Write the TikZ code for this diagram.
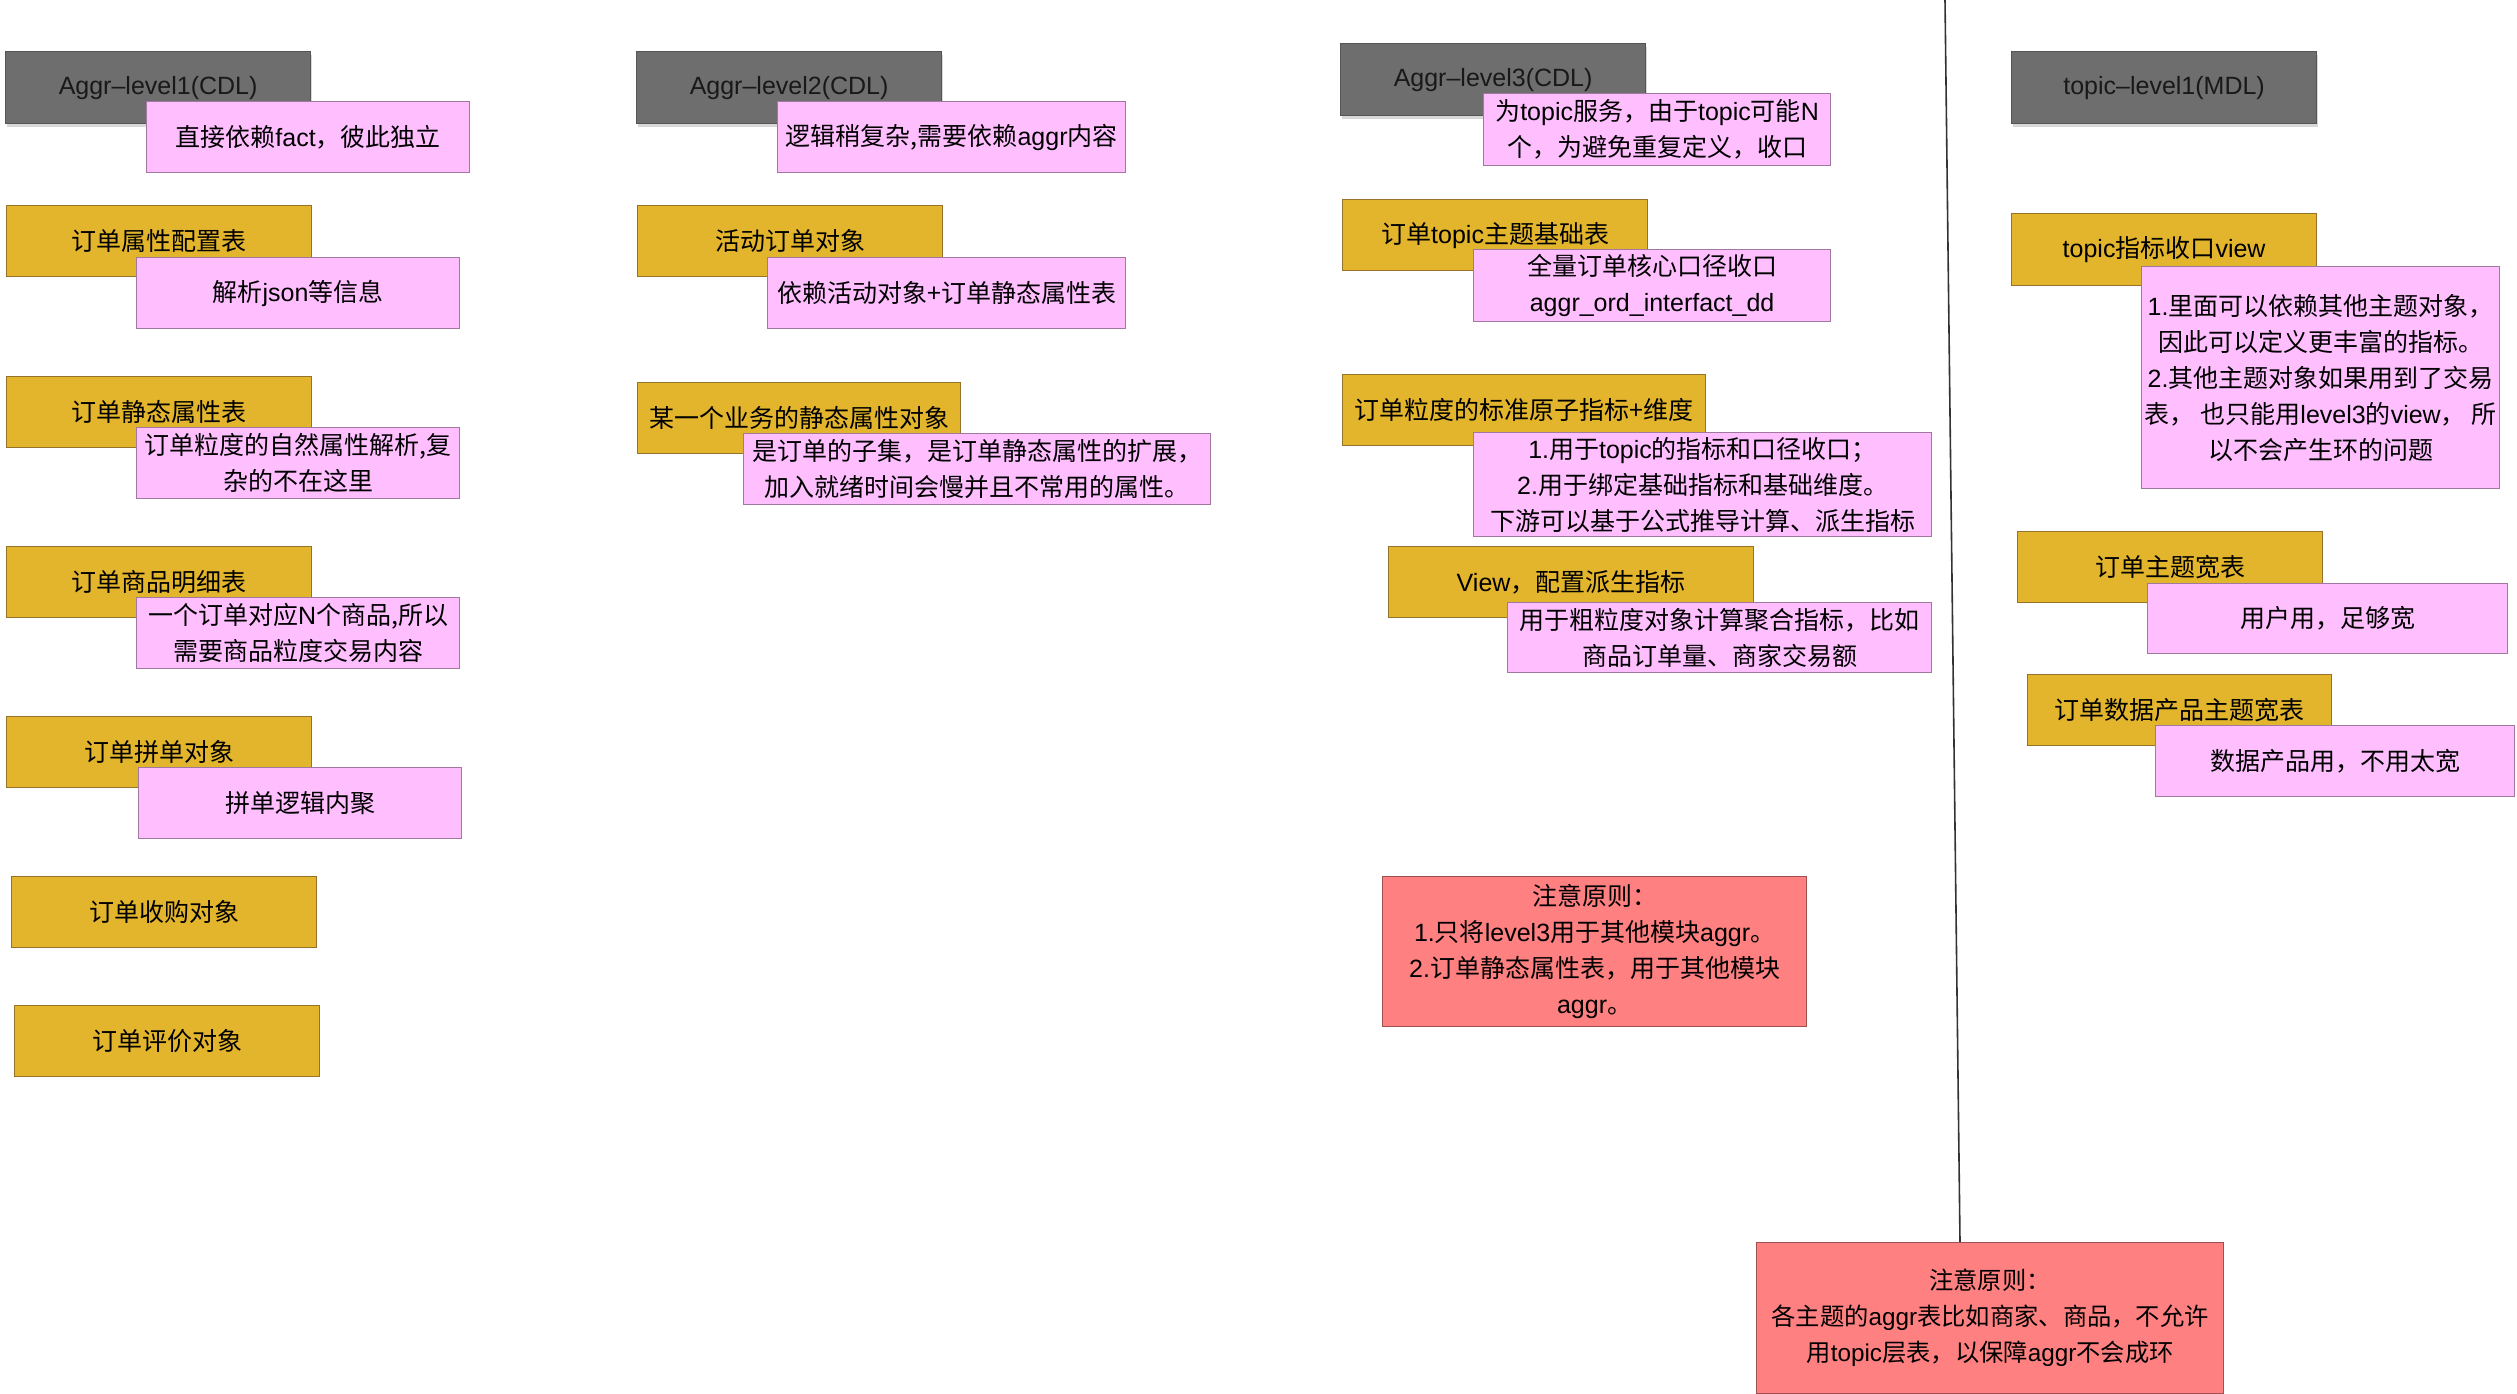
\documentclass[tikz,border=0pt]{standalone}
\usepackage{fontspec}
\setmainfont{Noto Sans CJK SC}
\newfontfamily\latfont{Liberation Sans}
\newcommand\lat[1]{{\latfont #1}}
\usetikzlibrary{shadows}
\definecolor{graybg}{RGB}{110,110,110}
\definecolor{graybd}{RGB}{85,85,85}
\definecolor{goldbg}{RGB}{227,181,45}
\definecolor{goldbd}{RGB}{150,115,40}
\definecolor{pinkbg}{RGB}{255,191,255}
\definecolor{pinkbd}{RGB}{160,120,160}
\definecolor{redbg}{RGB}{255,128,128}
\definecolor{redbd}{RGB}{160,80,80}
\tikzset{
  base/.style={anchor=north west, inner sep=0pt, align=center, line width=1.2pt,
    font=\fontsize{25pt}{36pt}\selectfont, text=black},
  gbox/.style={base, fill=graybg, draw=graybd, minimum width=305pt, minimum height=72pt,
    drop shadow={shadow xshift=1pt, shadow yshift=-3pt, opacity=0.3}, text=black!90},
  ybox/.style={base, fill=goldbg, draw=goldbd, minimum width=305pt, minimum height=71pt},
  pbox/.style={base, fill=pinkbg, draw=pinkbd, minimum height=71pt},
  rbox/.style={base, fill=redbg, draw=redbd},
  sepline/.style={line width=1.6pt, black!80}
}
\begin{document}
\begin{tikzpicture}[x=1pt,y=-1pt]
\useasboundingbox (0,0) rectangle (2517,1393);
\fill[white] (0,0) rectangle (2517,1393);

% column 1
\node[gbox] (g1) at (5,51) {\lat{Aggr–level1(CDL)}};
\node[pbox, minimum width=323pt] (p1) at (146,101) {直接依赖\lat{fact}，彼此独立};
\node[ybox] (y1) at (6,205) {订单属性配置表};
\node[pbox, minimum width=323pt] (p2) at (136,257) {解析\lat{json}等信息};
\node[ybox] (y2) at (6,376) {订单静态属性表};
\node[pbox, minimum width=323pt] (p3) at (136,427) {订单粒度的自然属性解析,复\\杂的不在这里};
\node[ybox] (y3) at (6,546) {订单商品明细表};
\node[pbox, minimum width=323pt] (p4) at (136,597) {一个订单对应\lat{N}个商品,所以\\需要商品粒度交易内容};
\node[ybox] (y4) at (6,716) {订单拼单对象};
\node[pbox, minimum width=323pt] (p5) at (138,767) {拼单逻辑内聚};
\node[ybox] (y5) at (11,876) {订单收购对象};
\node[ybox] (y6) at (14,1005) {订单评价对象};

% column 2
\node[gbox] (g2) at (636,51) {\lat{Aggr–level2(CDL)}};
\node[pbox, minimum width=348pt] (p6) at (777,101) {逻辑稍复杂,需要依赖\lat{aggr}内容};
\node[ybox] (y7) at (637,205) {活动订单对象};
\node[pbox, minimum width=358pt] (p7) at (767,257) {依赖活动对象+订单静态属性表};
\node[ybox, minimum width=323pt] (y8) at (637,382) {某一个业务的静态属性对象};
\node[pbox, minimum width=467pt] (p8) at (743,433) {是订单的子集，是订单静态属性的扩展，\\加入就绪时间会慢并且不常用的属性。};

% column 3
\node[gbox] (g3) at (1340,43) {\lat{Aggr–level3(CDL)}};
\node[pbox, minimum width=347pt, minimum height=72pt] (p9) at (1483,93) {为\lat{topic}服务，由于\lat{topic}可能\lat{N}\\个，为避免重复定义，收口};
\node[ybox] (y9) at (1342,199) {订单\lat{topic}主题基础表};
\node[pbox, minimum width=357pt, minimum height=72pt] (p10) at (1473,249) {全量订单核心口径收口\\\lat{aggr\_ord\_interfact\_dd}};
\node[ybox, minimum width=363pt] (y10) at (1342,374) {订单粒度的标准原子指标+维度};
\node[pbox, minimum width=458pt, minimum height=104pt] (p11) at (1473,432) {\lat{1.}用于\lat{topic}的指标和口径收口；\\\lat{2.}用于绑定基础指标和基础维度。\\下游可以基于公式推导计算、派生指标};
\node[ybox, minimum width=365pt] (y11) at (1388,546) {\lat{View}，配置派生指标};
\node[pbox, minimum width=424pt, minimum height=70pt] (p12) at (1507,602) {用于粗粒度对象计算聚合指标，比如\\商品订单量、商家交易额};
\node[rbox, minimum width=424pt, minimum height=150pt] (r1) at (1382,876) {注意原则：\\\lat{1.}只将\lat{level3}用于其他模块\lat{aggr}。\\\lat{2.}订单静态属性表，用于其他模块\\\lat{aggr}。};

% separator
\coordinate (ltop) at (1945,0);
\coordinate (lbot) at (1960,1242);
\draw[sepline] (ltop) -- (lbot);

% column 4
\node[gbox] (g4) at (2011,51) {\lat{topic–level1(MDL)}};
\node[ybox, minimum height=72pt] (y12) at (2011,213) {\lat{topic}指标收口\lat{view}};
\node[pbox, minimum width=358pt, minimum height=222pt] (p13) at (2141,266) {\lat{1.}里面可以依赖其他主题对象，\\因此可以定义更丰富的指标。\\\lat{2.}其他主题对象如果用到了交易\\表， 也只能用\lat{level3}的\lat{view}， 所\\以不会产生环的问题};
\node[ybox] (y13) at (2017,531) {订单主题宽表};
\node[pbox, minimum width=360pt, minimum height=70pt] (p14) at (2147,583) {用户用，足够宽};
\node[ybox, minimum width=304pt] (y14) at (2027,674) {订单数据产品主题宽表};
\node[pbox, minimum width=359pt] (p15) at (2155,725) {数据产品用，不用太宽};
\node[rbox, minimum width=467pt, minimum height=151pt, font=\fontsize{24.3pt}{36pt}\selectfont] (r2) at (1756,1242) {注意原则：\\各主题的\lat{aggr}表比如商家、商品，不允许\\用\lat{topic}层表，以保障\lat{aggr}不会成环};
\end{tikzpicture}
\end{document}
